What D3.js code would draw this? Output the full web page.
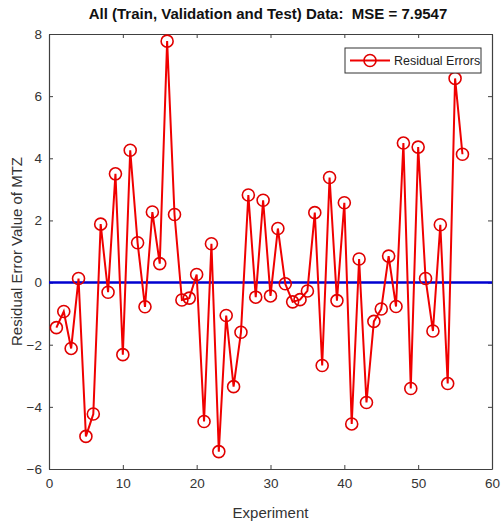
<!DOCTYPE html>
<html><head><meta charset="utf-8">
<script src="https://cdn.jsdelivr.net/npm/d3@7"></script>
<style>body{margin:0;background:#fff}svg{display:block}text{font-family:"Liberation Sans",Arial,sans-serif}</style>
</head><body>
<svg id="chart" width="501" height="526"></svg>
<script>
const experiments = d3.range(1, 57);
const residuals = [-1.45,-0.93,-2.12,0.13,-4.95,-4.23,1.88,-0.31,3.5,-2.32,4.26,1.28,-0.78,2.27,0.61,7.77,2.19,-0.56,-0.5,0.26,-4.47,1.25,-5.44,-1.06,-3.35,-1.6,2.82,-0.47,2.65,-0.43,1.74,-0.04,-0.62,-0.55,-0.27,2.25,-2.67,3.38,-0.58,2.57,-4.55,0.76,-3.86,-1.25,-0.85,0.85,-0.77,4.49,-3.41,4.36,0.13,-1.56,1.86,-3.25,6.57,4.13];
const xTicks = [0,10,20,30,40,50,60];
const yTicks = [-6,-4,-2,0,2,4,6,8];
const title = "All (Train, Validation and Test) Data:  MSE = 7.9547";
const xLabel = "Experiment";
const yLabel = "Residual Error Value of MTZ";
const legendLabel = "Residual Errors";

const svg = d3.select("#chart");
const L = 49, R = 492, T = 34, B = 469;
const x = d3.scaleLinear().domain([0,60]).range([L,R]);
const y = d3.scaleLinear().domain([-6,8]).range([B,T]);
const axisColor = "#404040";

// axes with inward ticks
const gx = svg.append("g").attr("transform",`translate(0,${B})`)
  .call(d3.axisBottom(x).tickValues(xTicks).tickSizeInner(-4).tickSizeOuter(0).tickPadding(9));
const gxt = svg.append("g").attr("transform",`translate(0,${T})`)
  .call(d3.axisTop(x).tickValues(xTicks).tickSizeInner(-4).tickSizeOuter(0).tickFormat(""));
const gy = svg.append("g").attr("transform",`translate(${L},0)`)
  .call(d3.axisLeft(y).tickValues(yTicks).tickSizeInner(-4).tickSizeOuter(0).tickPadding(7));
const gyr = svg.append("g").attr("transform",`translate(${R},0)`)
  .call(d3.axisRight(y).tickValues(yTicks).tickSizeInner(-4).tickSizeOuter(0).tickFormat(""));
[gx,gxt,gy,gyr].forEach(g=>{
  g.selectAll("path").attr("stroke",axisColor).attr("stroke-width",1.2);
  g.selectAll("line").attr("stroke",axisColor).attr("stroke-width",1);
  g.selectAll("text").attr("fill","#333").style("font-size","13.5px").style("font-family","'Liberation Sans',Arial,sans-serif");
});

// zero line
svg.append("line").attr("x1",x(0)).attr("x2",x(60)).attr("y1",y(0)).attr("y2",y(0))
  .attr("stroke","#0000d0").attr("stroke-width",2.5);

// series
const line = d3.line().x((d,i)=>x(experiments[i])).y(d=>y(d));
svg.append("path").datum(residuals).attr("d",line).attr("fill","none")
  .attr("stroke","#f00000").attr("stroke-width",2);
svg.append("g").selectAll("circle").data(residuals).join("circle")
  .attr("cx",(d,i)=>x(experiments[i])).attr("cy",d=>y(d)).attr("r",6)
  .attr("fill","none").attr("stroke","#e00000").attr("stroke-width",1.6);

// title & labels
svg.append("text").attr("x",268).attr("y",19).attr("text-anchor","middle")
  .style("font-size","15px").style("font-weight","bold").style("white-space","pre")
  .attr("fill","#111").text(title);
svg.append("text").attr("x",(L+R)/2).attr("y",518).attr("text-anchor","middle")
  .style("font-size","15px").attr("fill","#333").text(xLabel);
svg.append("text").attr("transform",`translate(22,${(T+B)/2}) rotate(-90)`).attr("text-anchor","middle")
  .style("font-size","15px").attr("fill","#333").text(yLabel);

// legend
const lg = svg.append("g").attr("transform","translate(345,48)");
lg.append("rect").attr("width",136).attr("height",25).attr("fill","#fff").attr("stroke","#333").attr("stroke-width",1);
lg.append("line").attr("x1",5).attr("x2",45).attr("y1",12.5).attr("y2",12.5).attr("stroke","#f00000").attr("stroke-width",2);
lg.append("circle").attr("cx",25).attr("cy",12.5).attr("r",6).attr("fill","none").attr("stroke","#e00000").attr("stroke-width",1.6);
lg.append("text").attr("x",49).attr("y",17).style("font-size","12.5px").attr("fill","#222").text(legendLabel);
</script>
</body></html>
